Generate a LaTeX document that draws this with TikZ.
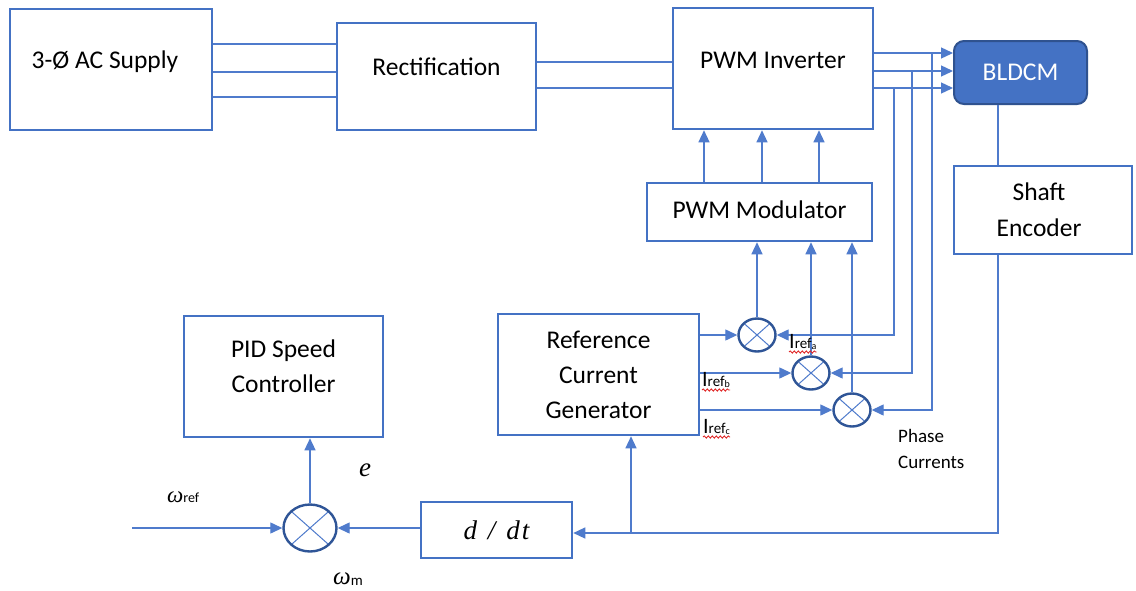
\documentclass[tikz,border=0pt]{standalone}
\usepackage{fontspec}
\setmainfont{Carlito}
\newfontfamily\serifit{Liberation Serif}[UprightFont=*-Italic]
\usetikzlibrary{arrows.meta,shapes.geometric,decorations.pathmorphing}

\definecolor{boxblue}{HTML}{4472C4}
\definecolor{wireblue}{HTML}{4F7BCC}
\definecolor{sumblue}{HTML}{2F5597}
\definecolor{motoredge}{HTML}{2F528F}
\definecolor{spellred}{HTML}{E02828}

\newcommand{\fsz}[2]{\fontsize{#1}{#2}\selectfont}
% current reference label: I_{ref_x}
\newcommand{\irefl}[1]{{\fsz{22}{22}I}{\fsz{15}{15}ref}\raisebox{-1.5pt}{\fsz{10}{10}#1}}

\begin{document}
\begin{tikzpicture}[x=1pt,y=-1pt,
  block/.style={draw=boxblue,line width=2.6pt,fill=white,inner sep=0pt,
                font=\fsz{25.5}{35},align=center},
  txt/.style={font=\fsz{25.5}{35},align=center,inner sep=0pt},
  wire/.style={draw=wireblue,line width=1.3pt},
  feed/.style={wire,-{Triangle[length=12pt,width=11pt]}},
  summer/.style={ellipse,draw=sumblue,line width=2.4pt,fill=white,inner sep=0pt,
    path picture={
      \draw[wireblue,line width=1pt]
        (path picture bounding box.north west) -- (path picture bounding box.south east)
        (path picture bounding box.north east) -- (path picture bounding box.south west);}},
  small/.style={minimum width=37pt,minimum height=33pt},
  squig/.style={draw=spellred,line width=0.9pt,
    decorate,decoration={snake,amplitude=1.1pt,segment length=4pt}},
  lab/.style={inner sep=0pt,anchor=base west}
]
\fill[white] (0,0) rectangle (1136,590);
\useasboundingbox (0,0) rectangle (1136,590);

% ---- power stage ----
\node[block,minimum width=202pt,minimum height=121pt,
  label={[txt,xshift=-6pt,yshift=8pt]center:3-Ø AC Supply}] (ac) at (111,69.5) {};
\node[block,minimum width=199pt,minimum height=107pt,
  label={[txt,yshift=10pt]center:Rectification}] (rect) at (436.5,76.5) {};
\node[block,minimum width=200pt,minimum height=121pt,
  label={[txt,yshift=8.5pt]center:PWM Inverter}] (inv) at (773,68.5) {};
\node[draw=motoredge,fill=boxblue,line width=2pt,rounded corners=10pt,
  minimum width=133pt,minimum height=63pt,inner sep=0pt,
  text=white,font=\fsz{25.5}{35}] (bldcm) at (1020.5,72.5) {BLDCM};

% ---- control stage ----
\node[block,minimum width=225pt,minimum height=58pt,
  label={[txt,yshift=2.5pt]center:PWM Modulator}] (mod) at (759.5,212) {};
\node[block,minimum width=178pt,minimum height=88pt,
  label={[txt,xshift=-4pt,font=\fsz{25.5}{36}]center:Shaft\\Encoder}] (enc) at (1043,210) {};
\node[block,minimum width=201pt,minimum height=121pt] (rcg) at (598.5,374.5)
  {Reference\\Current\\Generator};
\node[block,minimum width=199pt,minimum height=121pt,
  label={[txt,yshift=10pt]center:PID Speed\\Controller}] (pid) at (283.5,376.5) {};
\node[block,minimum width=151pt,minimum height=56pt,
  font=\serifit\fsz{27}{30}] (ddt) at (496.5,530) {d\hspace{11pt}/\hspace{11pt}d\hspace{2pt}t};

% ---- summing junctions ----
\node[summer,small] (sa) at (757,335) {};
\node[summer,small] (sb) at (811,373) {};
\node[summer,small] (sc) at (852,410) {};
\node[summer,minimum width=53pt,minimum height=47pt] (s0) at (310,528) {};

% ---- three-phase supply and DC link ----
\foreach \y in {44,72,97}
  \draw[wire] (ac.east |- 0,\y) -- (rect.west |- 0,\y);
\foreach \y in {62,88}
  \draw[wire] (rect.east |- 0,\y) -- (inv.west |- 0,\y);

% ---- inverter phases to motor ----
\foreach \y in {53,71,88}
  \draw[feed] (inv.east |- 0,\y) -- (bldcm.west |- 0,\y);

% ---- phase current feedback taps ----
\coordinate (tapa) at (894,88);
\coordinate (tapb) at (912,71);
\coordinate (tapc) at (932,53);
\draw[feed] (tapa) |- (sa.east);
\draw[feed] (tapb) |- (sb.east);
\draw[feed] (tapc) |- (sc.east);

% ---- current errors to modulator ----
\draw[feed] (sa.north) -- (sa.north |- mod.south);
\draw[feed] (sb.north) -- (sb.north |- mod.south);
\draw[feed] (sc.north) -- (sc.north |- mod.south);

% ---- gate signals to inverter ----
\foreach \x in {704,762,819}
  \draw[feed] (mod.north -| \x,0) -- (inv.south -| \x,0);

% ---- reference currents ----
\draw[feed] (rcg.east |- sa.west) -- (sa.west);
\draw[feed] (rcg.east |- sb.west) -- (sb.west);
\draw[feed] (rcg.east |- sc.west) -- (sc.west);

% ---- speed feedback ----
\draw[wire] ([xshift=-22.5pt]bldcm.south) -- ([xshift=-45pt]enc.north);
\draw[feed] ([xshift=-45pt]enc.south) |- ([yshift=-3pt]ddt.east);
\coordinate (tapw) at (631,533);
\draw[feed] (tapw) -- (tapw |- rcg.south);
\draw[feed] (ddt.west |- s0.east) -- (s0.east);
\coordinate (wref) at (132,528);
\draw[feed] (wref) -- (s0.west);
\draw[feed] (s0.north) -- (s0.north |- pid.south);

% ---- signal labels ----
\node[lab] (lwref) at (167,502) {{\serifit\fsz{23}{23}ω}{\fsz{14}{14}ref}};
\node[lab] (lwm) at (333,584) {{\serifit\fsz{25}{25}ω}\raisebox{-1.5pt}{\fsz{15}{15}m}};
\node[inner sep=0pt,font=\serifit\fsz{27}{27}] (le) at (365,470) {e};

\node[lab] (ia) at (789,348) {\irefl{a}};
\node[lab] (ib) at (702,386) {\irefl{b}};
\node[lab] (ic) at (703,433) {\irefl{c}};
\draw[squig] ([yshift=-4pt]ia.base west) -- ([yshift=-4pt]ia.base east);
\draw[squig] ([yshift=-4pt]ib.base west) -- ([yshift=-4pt]ib.base east);
\draw[squig] ([yshift=-4pt]ic.base west) -- ([yshift=-4pt]ic.base east);

\node[inner sep=0pt,anchor=west,align=left,font=\fsz{19}{26}] (phc) at (898,449)
  {Phase\\Currents};
\end{tikzpicture}
\end{document}
